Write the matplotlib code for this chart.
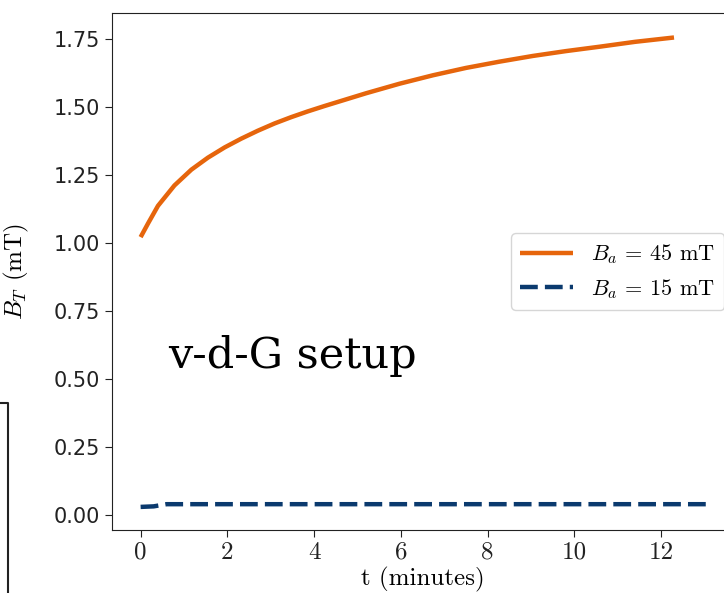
import matplotlib
matplotlib.use('Agg')
from matplotlib import pyplot as plt
from matplotlib.lines import Line2D

plt.rcParams['mathtext.fontset'] = 'cm'
plt.rcParams['axes.formatter.use_mathtext'] = True

# B_a = 45 mT curve
t_45 = [0.0, 0.17, 0.40, 0.78, 1.17, 1.55, 1.94, 2.32, 2.70, 3.09, 3.47,
        3.85, 4.24, 5.20, 5.97, 6.74, 7.50, 8.27, 9.04, 9.81, 10.58,
        11.4, 12.3]
b_45 = [1.02, 1.07, 1.135, 1.21, 1.268, 1.312, 1.350, 1.382, 1.411, 1.438,
        1.461, 1.482, 1.502, 1.549, 1.584, 1.615, 1.642, 1.665, 1.686,
        1.704, 1.720, 1.738, 1.754]

# B_a = 15 mT curve
t_15 = [0.0, 0.3, 0.6, 2.0, 4.0, 6.0, 8.0, 10.0, 12.0, 13.1]
b_15 = [0.028, 0.03, 0.038, 0.038, 0.038, 0.038, 0.038, 0.038, 0.038, 0.038]

x_ticks = [0, 2, 4, 6, 8, 10, 12]
y_ticks = [0.00, 0.25, 0.50, 0.75, 1.00, 1.25, 1.50, 1.75]

cor_laranja = '#e6650c'
cor_azul = '#0b3a6e'

fig = plt.figure(figsize=(7.24, 5.93), dpi=100)
ax = fig.add_axes([0.1547, 0.1062, 0.8577, 0.8714])

ax.plot(t_45, b_45, color=cor_laranja, lw=3.2, solid_capstyle='butt',
        solid_joinstyle='round', label=r'$B_a$ = 45 mT')
ax.plot(t_15, b_15, color=cor_azul, lw=3.2, dashes=(4.0, 1.6),
        label=r'$B_a$ = 15 mT')

ax.set_xlim(-0.66, 13.66)
ax.set_ylim(-0.057, 1.843)
ax.set_xticks(x_ticks)
ax.set_yticks(y_ticks)
ax.set_xticklabels([str(v) for v in x_ticks], fontfamily='cmr10', fontsize=18)
ax.set_yticklabels([f'{v:.2f}' for v in y_ticks], fontfamily='DejaVu Sans', fontsize=15)

for s in ax.spines.values():
    s.set_color('#222222')
ax.spines['right'].set_visible(False)
ax.tick_params(colors='#222222', length=5)

ax.set_xlabel('t (minutes)', fontfamily='cmr10', fontsize=18)
ax.xaxis.set_label_coords(0.5, -0.072)
ax.set_ylabel(r'$B_T$ (mT)', fontfamily='cmr10', fontsize=18)
ax.yaxis.set_label_coords(-0.13, 0.5)

ax.legend(loc='center right', prop={'family': 'cmr10', 'size': 16},
          handlelength=2.4, borderaxespad=0.4)

fig.text(168/724, 1 - 368/593, 'v-d-G setup', fontfamily='DejaVu Serif',
         fontsize=31, va='baseline', ha='left')

# pedaco de caixa na borda esquerda
fig.add_artist(Line2D([0, 8/724, 8/724], [1 - 403/593, 1 - 403/593, 0],
                      color='#222222', lw=1.5))

plt.savefig('out.png', dpi=100)
